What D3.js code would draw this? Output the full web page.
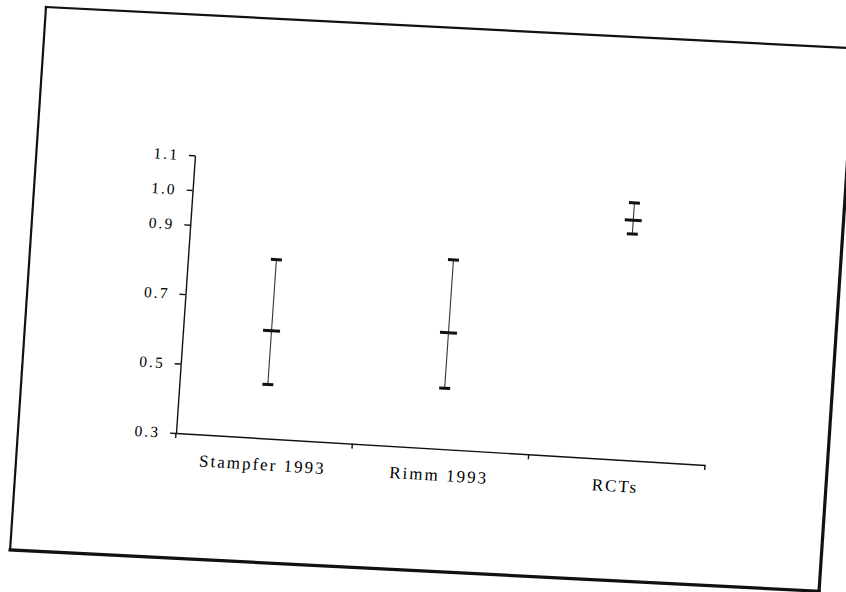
<!DOCTYPE html>
<html>
<head>
<meta charset="utf-8">
<script src="https://cdn.jsdelivr.net/npm/d3@7/dist/d3.min.js"></script>
<style>
  body { margin: 0; background: #fff; }
  svg text { font-family: "Liberation Serif", "Times New Roman", serif; fill: #000; }
</style>
</head>
<body>
<div id="chart"></div>
<script>
// values
const categories = ["Stampfer 1993", "Rimm 1993", "RCTs"];
const estimates = [0.61, 0.635, 0.99];
const lowerCI = [0.455, 0.475, 0.95];
const upperCI = [0.815, 0.845, 1.04];
const yTickValues = [0.3, 0.5, 0.7, 0.9, 1.0, 1.1];

class ErrorBarChart {
    constructor (opts) {
        this.element = opts.element;
        this.width = 846;
        this.height = 592;

        this.data = categories.map((c, i) => ({
            name: c, est: estimates[i], lo: lowerCI[i], hi: upperCI[i]
        }));

        this.svg = d3.select(this.element)
            .append("svg")
            .attr("width", this.width)
            .attr("height", this.height);

        // the page was scanned a little crooked, so both the frame and
        // the plot live in slightly skewed groups
        this.frame = this.svg.append("g")
            .attr("class", "frame")
            .attr("transform", "matrix(0.9987,0.051,-0.066,0.998,46,7)");

        this.plotWidth = 530;
        this.plotHeight = 278.3;

        this.chart = this.svg.append("g")
            .attr("class", "plot")
            .attr("transform", "matrix(0.9982,0.0604,-0.0683,0.9977,195,155.3)");

        this.x = d3.scaleBand().domain(categories).range([0, this.plotWidth]).padding(0);
        this.y = d3.scaleLinear().domain([0.3, 1.1]).range([this.plotHeight, 0]);

        this.drawFrame();
        this.drawAxes();
        this.drawBars();
    }

    drawFrame(){
        var w = 810, h = 544;
        var sides = [
            {x1: 0, y1: 0, x2: w, y2: 0, sw: 2.2},
            {x1: 0, y1: 0, x2: 0, y2: h, sw: 2.2},
            {x1: 0, y1: h, x2: w, y2: h, sw: 3.2},
            {x1: w, y1: 0, x2: w, y2: h, sw: 3.2}
        ];
        this.frame.selectAll(".side").data(sides).enter()
            .append("line")
            .attr("class", "side")
            .attr("x1", d => d.x1).attr("y1", d => d.y1)
            .attr("x2", d => d.x2).attr("y2", d => d.y2)
            .attr("stroke", "#111")
            .attr("stroke-width", d => d.sw)
            .attr("stroke-linecap", "square");
    }

    drawAxes(){
        // y axis
        var yAxis = this.chart.append("g")
            .attr("class", "y-axis")
            .call(d3.axisLeft(this.y)
                .tickValues(yTickValues)
                .tickFormat(d3.format(".1f"))
                .tickSize(6)
                .tickSizeOuter(0)
                .tickPadding(10));

        yAxis.selectAll("text")
            .attr("font-size", 15.5)
            .attr("letter-spacing", "2px");

        // x axis: labels at band centres, ticks at band edges
        var xAxis = this.chart.append("g")
            .attr("class", "x-axis")
            .attr("transform", "translate(0," + this.plotHeight + ")")
            .call(d3.axisBottom(this.x).tickSize(0).tickPadding(0));

        xAxis.selectAll("text")
            .attr("dy", null)
            .attr("y", 32)
            .attr("font-size", 17)
            .attr("letter-spacing", "2px");

        var edges = d3.range(categories.length + 1).map(i => i * this.x.step());
        xAxis.selectAll(".edge-tick").data(edges).enter()
            .append("line")
            .attr("class", "edge-tick")
            .attr("x1", d => d).attr("x2", d => d)
            .attr("y1", 0).attr("y2", 5);

        this.chart.selectAll(".domain, .tick line, .edge-tick")
            .attr("stroke", "#111")
            .attr("stroke-width", 1.4);
    }

    drawBars(){
        var cx = d => this.x(d.name) + this.x.bandwidth() / 2;

        var bars = this.chart.selectAll(".ci").data(this.data).enter()
            .append("g")
            .attr("class", "ci");

        bars.append("line")
            .attr("x1", cx).attr("x2", cx)
            .attr("y1", d => this.y(d.lo))
            .attr("y2", d => this.y(d.hi))
            .attr("stroke", "#333")
            .attr("stroke-width", 1.1);

        var marks = [
            {key: "hi", half: 5.5},
            {key: "lo", half: 5.5},
            {key: "est", half: 8.5}
        ];

        marks.forEach(m => {
            bars.append("line")
                .attr("x1", d => cx(d) - m.half)
                .attr("x2", d => cx(d) + m.half)
                .attr("y1", d => this.y(d[m.key]))
                .attr("y2", d => this.y(d[m.key]))
                .attr("stroke", "#111")
                .attr("stroke-width", 3);
        });
    }
}

new ErrorBarChart({element: "#chart"});
</script>
</body>
</html>
